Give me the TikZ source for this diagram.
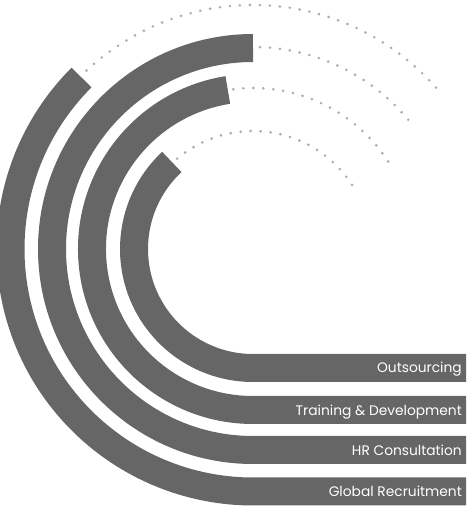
\documentclass[tikz,border=0pt]{standalone}
\usepackage{fontspec}
\setmainfont{Poppins}
\definecolor{bandgray}{HTML}{666666}
\definecolor{dotgray}{HTML}{ABABAB}
\tikzset{
  band/.style={draw=bandgray, line width=28pt, line cap=butt},
  dotarc/.style={draw=dotgray, line width=2.9pt, line cap=round, dash pattern=on 0pt off 10pt},
  lbl/.style={anchor=base east, text=white, inner sep=0pt, font=\fontsize{13.8}{16}\selectfont}
}
\begin{document}
\begin{tikzpicture}[x=1pt,y=1pt]
\useasboundingbox (0,0) rectangle (468,507);
\clip (0,0) rectangle (468,507);
\coordinate (c) at (253,258);
% dotted arcs
\draw[dotarc] ([shift={(133:244)}]c) arc[start angle=133, end angle=41, radius=244];
\draw[dotarc] ([shift={(88:202)}]c) arc[start angle=88, end angle=39, radius=202];
\draw[dotarc] ([shift={(97:161)}]c) arc[start angle=97, end angle=32, radius=161];
\draw[dotarc] ([shift={(130:118)}]c) arc[start angle=130, end angle=29, radius=118];
% bands
\draw[band] ([shift={(133:119)}]c) arc[start angle=133, end angle=270, radius=119] -- (466,139);
\draw[band] ([shift={(99:161)}]c) arc[start angle=99, end angle=270, radius=161] -- (466,97);
\draw[band] ([shift={(90:201)}]c) arc[start angle=90, end angle=270, radius=201] -- (466,57);
\draw[band] ([shift={(135:242.5)}]c) arc[start angle=135, end angle=270, radius=242.5] -- (466,15.5);
% labels
\node[lbl] (l1) at (462,134) {Outsourcing};
\node[lbl] (l2) at (462,92) {Training \& Development};
\node[lbl] (l3) at (462,52) {HR Consultation};
\node[lbl] (l4) at (462,10.5) {Global Recruitment};
\end{tikzpicture}
\end{document}
